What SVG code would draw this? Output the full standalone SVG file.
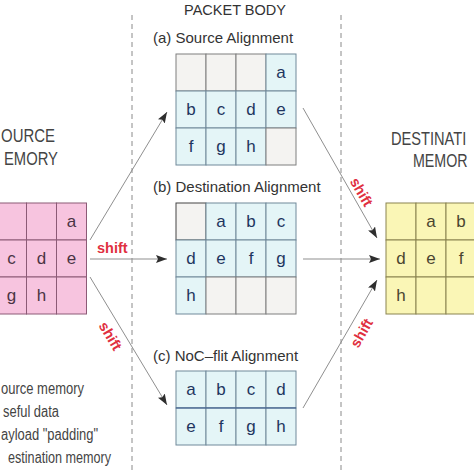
<svg xmlns="http://www.w3.org/2000/svg" width="474" height="474" viewBox="0 0 474 474">
<style>
text{font-family:"Liberation Sans",Arial,sans-serif}
.t{font-size:15px;fill:#333}
.big{font-size:19px;fill:#444}
.leg{font-size:16px;fill:#444}
.sh{font-size:14.5px;font-weight:bold;fill:#e03040}
.L{font-size:17px;text-anchor:middle}
.pk{fill:#f7c4df;stroke:#8c5a76;stroke-width:1}
.pkt{fill:#4a3444}
.cy{fill:#e4f5f7;stroke:#71899a;stroke-width:1}
.pd{fill:#f4f3f1;stroke:#7f7f7f;stroke-width:1}
.cyt{fill:#1f3560}
.ye{fill:#faf6b6;stroke:#8a8450;stroke-width:1}
.yet{fill:#4a4530}
.dash{stroke:#8a8a8a;stroke-width:1;stroke-dasharray:5 4;fill:none}
.ar{stroke:#8f8f8f;stroke-width:1;fill:none;marker-end:url(#ah)}
</style>
<defs>
<marker id="ah" markerUnits="userSpaceOnUse" markerWidth="12" markerHeight="8" refX="11" refY="4" orient="auto">
<path d="M0,0 L11,4 L0,8 L2,4 z" fill="#2e2e2e"/>
</marker>
</defs>
<rect width="474" height="474" fill="#ffffff"/>

<g id="separators">
<line class="dash" x1="132" y1="15" x2="132" y2="474"/>
<line class="dash" x1="341" y1="15" x2="341" y2="474"/>
</g>

<g id="headings">
<text class="t" x="235" y="15" text-anchor="middle" style="font-size:14.5px">PACKET BODY</text>
<text class="big" x="1" y="142" textLength="54" lengthAdjust="spacingAndGlyphs">OURCE</text>
<text class="big" x="4" y="165" textLength="54" lengthAdjust="spacingAndGlyphs">EMORY</text>
<text class="big" transform="translate(391,145) scale(0.77,1)">DESTINATI</text>
<text class="big" transform="translate(413,167) scale(0.75,1)">MEMOR</text>
</g>

<g id="source-memory">
<rect class="pk" x="-3.5" y="203" width="30" height="37"/>
<rect class="pk" x="26.5" y="203" width="30" height="37"/>
<rect class="pk" x="56.5" y="203" width="30" height="37"/>
<rect class="pk" x="-3.5" y="240" width="30" height="37"/>
<rect class="pk" x="26.5" y="240" width="30" height="37"/>
<rect class="pk" x="56.5" y="240" width="30" height="37"/>
<rect class="pk" x="-3.5" y="277" width="30" height="37"/>
<rect class="pk" x="26.5" y="277" width="30" height="37"/>
<rect class="pk" x="56.5" y="277" width="30" height="37"/>
<g class="L pkt">
<text x="71.5" y="227">a</text>
<text x="11.5" y="264">c</text><text x="41.5" y="264">d</text><text x="71.5" y="264">e</text>
<text x="11.5" y="301">g</text><text x="41.5" y="301">h</text>
</g>
</g>

<g id="source-alignment">
<text class="t" x="153" y="43">(a) Source Alignment</text>
<rect class="pd" x="176" y="54" width="30" height="37"/>
<rect class="pd" x="206" y="54" width="30" height="37"/>
<rect class="pd" x="236" y="54" width="30" height="37"/>
<rect class="cy" x="266" y="54" width="30" height="37"/>
<rect class="cy" x="176" y="91" width="30" height="37"/>
<rect class="cy" x="206" y="91" width="30" height="37"/>
<rect class="cy" x="236" y="91" width="30" height="37"/>
<rect class="cy" x="266" y="91" width="30" height="37"/>
<rect class="cy" x="176" y="128" width="30" height="37"/>
<rect class="cy" x="206" y="128" width="30" height="37"/>
<rect class="cy" x="236" y="128" width="30" height="37"/>
<rect class="pd" x="266" y="128" width="30" height="37"/>
<g class="L cyt">
<text x="281" y="78">a</text>
<text x="191" y="115">b</text><text x="221" y="115">c</text><text x="251" y="115">d</text><text x="281" y="115">e</text>
<text x="191" y="152">f</text><text x="221" y="152">g</text><text x="251" y="152">h</text>
</g>
</g>

<g id="destination-alignment">
<text class="t" x="153" y="192">(b) Destination Alignment</text>
<rect class="pd" x="176" y="203" width="30" height="37" style="stroke:#444"/>
<rect class="cy" x="206" y="203" width="30" height="37"/>
<rect class="cy" x="236" y="203" width="30" height="37"/>
<rect class="cy" x="266" y="203" width="30" height="37"/>
<rect class="cy" x="176" y="240" width="30" height="37"/>
<rect class="cy" x="206" y="240" width="30" height="37"/>
<rect class="cy" x="236" y="240" width="30" height="37"/>
<rect class="cy" x="266" y="240" width="30" height="37"/>
<rect class="cy" x="176" y="277" width="30" height="37"/>
<rect class="pd" x="206" y="277" width="30" height="37"/>
<rect class="pd" x="236" y="277" width="30" height="37"/>
<rect class="pd" x="266" y="277" width="30" height="37"/>
<g class="L cyt">
<text x="221" y="227">a</text><text x="251" y="227">b</text><text x="281" y="227">c</text>
<text x="191" y="264">d</text><text x="221" y="264">e</text><text x="251" y="264">f</text><text x="281" y="264">g</text>
<text x="191" y="301">h</text>
</g>
</g>

<g id="noc-flit-alignment">
<text class="t" x="153" y="361">(c) NoC–flit Alignment</text>
<rect class="cy" x="176" y="371" width="30" height="37"/>
<rect class="cy" x="206" y="371" width="30" height="37"/>
<rect class="cy" x="236" y="371" width="30" height="37"/>
<rect class="cy" x="266" y="371" width="30" height="37"/>
<rect class="cy" x="176" y="408" width="30" height="37"/>
<rect class="cy" x="206" y="408" width="30" height="37"/>
<rect class="cy" x="236" y="408" width="30" height="37"/>
<rect class="cy" x="266" y="408" width="30" height="37"/>
<line x1="176" y1="408" x2="296" y2="408" stroke="#3a5a90" stroke-width="1.2"/>
<g class="L cyt">
<text x="191" y="395">a</text><text x="221" y="395">b</text><text x="251" y="395">c</text><text x="281" y="395">d</text>
<text x="191" y="432">e</text><text x="221" y="432">f</text><text x="251" y="432">g</text><text x="281" y="432">h</text>
</g>
</g>

<g id="destination-memory">
<rect class="ye" x="386" y="203" width="30" height="37"/>
<rect class="ye" x="416" y="203" width="30" height="37"/>
<rect class="ye" x="446" y="203" width="30" height="37"/>
<rect class="ye" x="386" y="240" width="30" height="37"/>
<rect class="ye" x="416" y="240" width="30" height="37"/>
<rect class="ye" x="446" y="240" width="30" height="37"/>
<rect class="ye" x="386" y="277" width="30" height="37"/>
<rect class="ye" x="416" y="277" width="30" height="37"/>
<rect class="ye" x="446" y="277" width="30" height="37"/>
<g class="L yet">
<text x="431" y="227">a</text><text x="461" y="227">b</text>
<text x="401" y="264">d</text><text x="431" y="264">e</text><text x="461" y="264">f</text>
<text x="401" y="301">h</text>
</g>
</g>

<g id="connectors">
<line class="ar" x1="90" y1="240" x2="167" y2="112"/>
<line class="ar" x1="90" y1="259" x2="167" y2="259"/>
<line class="ar" x1="90" y1="277" x2="167" y2="405"/>
<line class="ar" x1="303" y1="108" x2="377" y2="238"/>
<line class="ar" x1="303" y1="259" x2="380" y2="259"/>
<line class="ar" x1="303" y1="408" x2="377" y2="280"/>
<text class="sh" x="97" y="253">shift</text>
<text class="sh" text-anchor="middle" transform="translate(110.5,336) rotate(59)" y="5">shift</text>
<text class="sh" text-anchor="middle" transform="translate(361.5,192) rotate(60)" y="5">shift</text>
<text class="sh" text-anchor="middle" transform="translate(361.5,333) rotate(-60)" y="5">shift</text>
</g>

<g id="legend">
<text class="leg" x="1" y="394" textLength="83" lengthAdjust="spacingAndGlyphs">ource memory</text>
<text class="leg" x="3" y="417" textLength="56" lengthAdjust="spacingAndGlyphs">seful data</text>
<text class="leg" x="1" y="440" textLength="97" lengthAdjust="spacingAndGlyphs">ayload "padding"</text>
<text class="leg" x="8" y="463" textLength="103" lengthAdjust="spacingAndGlyphs">estination memory</text>
</g>
</svg>
